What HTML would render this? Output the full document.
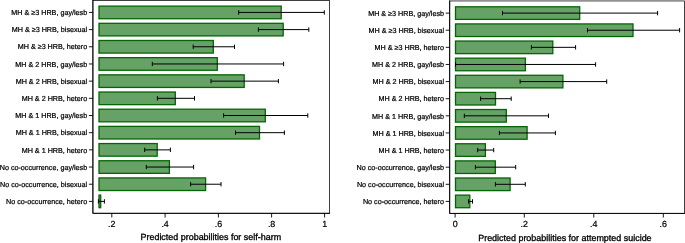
<!DOCTYPE html>
<html lang="en">
<head>
<meta charset="utf-8">
<title>Predicted probabilities</title>
<style>
html,body{margin:0;padding:0;background:#fff;}
body{width:685px;height:243px;overflow:hidden;}
svg{display:block;}
text.t{stroke-width:0.32px;}
svg{will-change:transform;opacity:0.9999;}
text{font-family:"Liberation Sans",Arial,Helvetica,sans-serif;fill:#000;stroke:#000;stroke-width:0.22px;text-rendering:geometricPrecision;}
</style>
</head>
<body>
<svg width="685" height="243" viewBox="0 0 685 243">
<rect width="685" height="243" fill="#fff"/>
<rect x="92.9" y="0.4" width="236.70" height="212.90" fill="#fff" stroke="#000" stroke-width="0.75"/>
<path d="M92.9 0.4V213.3H329.6" fill="none" stroke="#000" stroke-width="0.9" stroke-linecap="square"/>
<rect x="99.0" y="6.12" width="182.20" height="12.6" fill="#66a266" stroke="#056405" stroke-width="1.3"/>
<path d="M238.7 12.42H324.3" stroke="#000" stroke-width="1.0" fill="none"/>
<path d="M238.7 10.22v4.4M324.3 10.22v4.4" stroke="#000" stroke-width="1.0" fill="none"/>
<path d="M88.90 12.42H92.9" stroke="#000" stroke-width="0.9"/>
<text x="87.20" y="15.12" text-anchor="end" font-size="7.2">MH &amp; ≥3 HRB, gay/lesb</text>
<rect x="99.0" y="23.30" width="184.20" height="12.6" fill="#66a266" stroke="#056405" stroke-width="1.3"/>
<path d="M258.4 29.60H308.8" stroke="#000" stroke-width="1.0" fill="none"/>
<path d="M258.4 27.40v4.4M308.8 27.40v4.4" stroke="#000" stroke-width="1.0" fill="none"/>
<path d="M88.90 29.60H92.9" stroke="#000" stroke-width="0.9"/>
<text x="87.20" y="32.30" text-anchor="end" font-size="7.2">MH &amp; ≥3 HRB, bisexual</text>
<rect x="99.0" y="40.48" width="114.30" height="12.6" fill="#66a266" stroke="#056405" stroke-width="1.3"/>
<path d="M193.2 46.78H234.5" stroke="#000" stroke-width="1.0" fill="none"/>
<path d="M193.2 44.58v4.4M234.5 44.58v4.4" stroke="#000" stroke-width="1.0" fill="none"/>
<path d="M88.90 46.78H92.9" stroke="#000" stroke-width="0.9"/>
<text x="87.20" y="49.48" text-anchor="end" font-size="7.2">MH &amp; ≥3 HRB, hetero</text>
<rect x="99.0" y="57.66" width="118.30" height="12.6" fill="#66a266" stroke="#056405" stroke-width="1.3"/>
<path d="M152.3 63.96H283.6" stroke="#000" stroke-width="1.0" fill="none"/>
<path d="M152.3 61.76v4.4M283.6 61.76v4.4" stroke="#000" stroke-width="1.0" fill="none"/>
<path d="M88.90 63.96H92.9" stroke="#000" stroke-width="0.9"/>
<text x="87.20" y="66.66" text-anchor="end" font-size="7.2">MH &amp; 2 HRB, gay/lesb</text>
<rect x="99.0" y="74.84" width="145.20" height="12.6" fill="#66a266" stroke="#056405" stroke-width="1.3"/>
<path d="M211.0 81.14H278.4" stroke="#000" stroke-width="1.0" fill="none"/>
<path d="M211.0 78.94v4.4M278.4 78.94v4.4" stroke="#000" stroke-width="1.0" fill="none"/>
<path d="M88.90 81.14H92.9" stroke="#000" stroke-width="0.9"/>
<text x="87.20" y="83.84" text-anchor="end" font-size="7.2">MH &amp; 2 HRB, bisexual</text>
<rect x="99.0" y="92.02" width="76.30" height="12.6" fill="#66a266" stroke="#056405" stroke-width="1.3"/>
<path d="M157.4 98.32H194.5" stroke="#000" stroke-width="1.0" fill="none"/>
<path d="M157.4 96.12v4.4M194.5 96.12v4.4" stroke="#000" stroke-width="1.0" fill="none"/>
<path d="M88.90 98.32H92.9" stroke="#000" stroke-width="0.9"/>
<text x="87.20" y="101.02" text-anchor="end" font-size="7.2">MH &amp; 2 HRB, hetero</text>
<rect x="99.0" y="109.20" width="166.30" height="12.6" fill="#66a266" stroke="#056405" stroke-width="1.3"/>
<path d="M223.6 115.50H307.8" stroke="#000" stroke-width="1.0" fill="none"/>
<path d="M223.6 113.30v4.4M307.8 113.30v4.4" stroke="#000" stroke-width="1.0" fill="none"/>
<path d="M88.90 115.50H92.9" stroke="#000" stroke-width="0.9"/>
<text x="87.20" y="118.20" text-anchor="end" font-size="7.2">MH &amp; 1 HRB, gay/lesb</text>
<rect x="99.0" y="126.38" width="160.50" height="12.6" fill="#66a266" stroke="#056405" stroke-width="1.3"/>
<path d="M235.5 132.68H284.4" stroke="#000" stroke-width="1.0" fill="none"/>
<path d="M235.5 130.48v4.4M284.4 130.48v4.4" stroke="#000" stroke-width="1.0" fill="none"/>
<path d="M88.90 132.68H92.9" stroke="#000" stroke-width="0.9"/>
<text x="87.20" y="135.38" text-anchor="end" font-size="7.2">MH &amp; 1 HRB, bisexual</text>
<rect x="99.0" y="143.56" width="58.20" height="12.6" fill="#66a266" stroke="#056405" stroke-width="1.3"/>
<path d="M144.7 149.86H170.4" stroke="#000" stroke-width="1.0" fill="none"/>
<path d="M144.7 147.66v4.4M170.4 147.66v4.4" stroke="#000" stroke-width="1.0" fill="none"/>
<path d="M88.90 149.86H92.9" stroke="#000" stroke-width="0.9"/>
<text x="87.20" y="152.56" text-anchor="end" font-size="7.2">MH &amp; 1 HRB, hetero</text>
<rect x="99.0" y="160.74" width="70.40" height="12.6" fill="#66a266" stroke="#056405" stroke-width="1.3"/>
<path d="M146.3 167.04H193.6" stroke="#000" stroke-width="1.0" fill="none"/>
<path d="M146.3 164.84v4.4M193.6 164.84v4.4" stroke="#000" stroke-width="1.0" fill="none"/>
<path d="M88.90 167.04H92.9" stroke="#000" stroke-width="0.9"/>
<text x="87.20" y="169.74" text-anchor="end" font-size="7.2">No co-occurrence, gay/lesb</text>
<rect x="99.0" y="177.92" width="106.60" height="12.6" fill="#66a266" stroke="#056405" stroke-width="1.3"/>
<path d="M190.6 184.22H221.0" stroke="#000" stroke-width="1.0" fill="none"/>
<path d="M190.6 182.02v4.4M221.0 182.02v4.4" stroke="#000" stroke-width="1.0" fill="none"/>
<path d="M88.90 184.22H92.9" stroke="#000" stroke-width="0.9"/>
<text x="87.20" y="186.92" text-anchor="end" font-size="7.2">No co-occurrence, bisexual</text>
<rect x="99.0" y="195.10" width="1.70" height="12.6" fill="#66a266" stroke="#056405" stroke-width="1.3"/>
<path d="M98.4 201.40H104.4" stroke="#000" stroke-width="1.0" fill="none"/>
<path d="M98.4 199.20v4.4M104.4 199.20v4.4" stroke="#000" stroke-width="1.0" fill="none"/>
<path d="M88.90 201.40H92.9" stroke="#000" stroke-width="0.9"/>
<text x="87.20" y="204.10" text-anchor="end" font-size="7.2">No co-occurrence, hetero</text>
<path d="M111.8 213.3V217.50" stroke="#000" stroke-width="0.9"/>
<text x="111.8" y="227.1" text-anchor="middle" font-size="8.9">.2</text>
<path d="M165.1 213.3V217.50" stroke="#000" stroke-width="0.9"/>
<text x="165.1" y="227.1" text-anchor="middle" font-size="8.9">.4</text>
<path d="M218.4 213.3V217.50" stroke="#000" stroke-width="0.9"/>
<text x="218.4" y="227.1" text-anchor="middle" font-size="8.9">.6</text>
<path d="M271.6 213.3V217.50" stroke="#000" stroke-width="0.9"/>
<text x="271.6" y="227.1" text-anchor="middle" font-size="8.9">.8</text>
<path d="M324.6 213.3V217.50" stroke="#000" stroke-width="0.9"/>
<text x="324.6" y="227.1" text-anchor="middle" font-size="8.9">1</text>
<text class="t" x="140.5" y="239.9" font-size="8.95">Predicted probabilities for self-harm</text>
<rect x="449.7" y="0.95" width="234.80" height="212.45" fill="#fff" stroke="#000" stroke-width="0.75"/>
<path d="M449.7 0.95V213.4H684.5" fill="none" stroke="#000" stroke-width="0.9" stroke-linecap="square"/>
<rect x="455.5" y="6.80" width="124.20" height="12.6" fill="#66a266" stroke="#056405" stroke-width="1.3"/>
<path d="M502.5 13.10H657.6" stroke="#000" stroke-width="1.0" fill="none"/>
<path d="M502.5 10.90v4.4M657.6 10.90v4.4" stroke="#000" stroke-width="1.0" fill="none"/>
<path d="M445.70 13.10H449.7" stroke="#000" stroke-width="0.9"/>
<text x="444.00" y="15.80" text-anchor="end" font-size="7.2">MH &amp; ≥3 HRB, gay/lesb</text>
<rect x="455.5" y="23.92" width="177.50" height="12.6" fill="#66a266" stroke="#056405" stroke-width="1.3"/>
<path d="M587.5 30.22H679.6" stroke="#000" stroke-width="1.0" fill="none"/>
<path d="M587.5 28.02v4.4M679.6 28.02v4.4" stroke="#000" stroke-width="1.0" fill="none"/>
<path d="M445.70 30.22H449.7" stroke="#000" stroke-width="0.9"/>
<text x="444.00" y="32.92" text-anchor="end" font-size="7.2">MH &amp; ≥3 HRB, bisexual</text>
<rect x="455.5" y="41.04" width="97.30" height="12.6" fill="#66a266" stroke="#056405" stroke-width="1.3"/>
<path d="M531.4 47.34H575.6" stroke="#000" stroke-width="1.0" fill="none"/>
<path d="M531.4 45.14v4.4M575.6 45.14v4.4" stroke="#000" stroke-width="1.0" fill="none"/>
<path d="M445.70 47.34H449.7" stroke="#000" stroke-width="0.9"/>
<text x="444.00" y="50.04" text-anchor="end" font-size="7.2">MH &amp; ≥3 HRB, hetero</text>
<rect x="455.5" y="58.16" width="69.90" height="12.6" fill="#66a266" stroke="#056405" stroke-width="1.3"/>
<path d="M455.5 64.46H595.6" stroke="#000" stroke-width="1.0" fill="none"/>
<path d="M455.5 62.26v4.4M595.6 62.26v4.4" stroke="#000" stroke-width="1.0" fill="none"/>
<path d="M445.70 64.46H449.7" stroke="#000" stroke-width="0.9"/>
<text x="444.00" y="67.16" text-anchor="end" font-size="7.2">MH &amp; 2 HRB, gay/lesb</text>
<rect x="455.5" y="75.28" width="107.40" height="12.6" fill="#66a266" stroke="#056405" stroke-width="1.3"/>
<path d="M520.1 81.58H606.7" stroke="#000" stroke-width="1.0" fill="none"/>
<path d="M520.1 79.38v4.4M606.7 79.38v4.4" stroke="#000" stroke-width="1.0" fill="none"/>
<path d="M445.70 81.58H449.7" stroke="#000" stroke-width="0.9"/>
<text x="444.00" y="84.28" text-anchor="end" font-size="7.2">MH &amp; 2 HRB, bisexual</text>
<rect x="455.5" y="92.40" width="40.00" height="12.6" fill="#66a266" stroke="#056405" stroke-width="1.3"/>
<path d="M480.6 98.70H511.2" stroke="#000" stroke-width="1.0" fill="none"/>
<path d="M480.6 96.50v4.4M511.2 96.50v4.4" stroke="#000" stroke-width="1.0" fill="none"/>
<path d="M445.70 98.70H449.7" stroke="#000" stroke-width="0.9"/>
<text x="444.00" y="101.40" text-anchor="end" font-size="7.2">MH &amp; 2 HRB, hetero</text>
<rect x="455.5" y="109.52" width="50.80" height="12.6" fill="#66a266" stroke="#056405" stroke-width="1.3"/>
<path d="M464.3 115.82H548.5" stroke="#000" stroke-width="1.0" fill="none"/>
<path d="M464.3 113.62v4.4M548.5 113.62v4.4" stroke="#000" stroke-width="1.0" fill="none"/>
<path d="M445.70 115.82H449.7" stroke="#000" stroke-width="0.9"/>
<text x="444.00" y="118.52" text-anchor="end" font-size="7.2">MH &amp; 1 HRB, gay/lesb</text>
<rect x="455.5" y="126.64" width="71.60" height="12.6" fill="#66a266" stroke="#056405" stroke-width="1.3"/>
<path d="M499.4 132.94H555.4" stroke="#000" stroke-width="1.0" fill="none"/>
<path d="M499.4 130.74v4.4M555.4 130.74v4.4" stroke="#000" stroke-width="1.0" fill="none"/>
<path d="M445.70 132.94H449.7" stroke="#000" stroke-width="0.9"/>
<text x="444.00" y="135.64" text-anchor="end" font-size="7.2">MH &amp; 1 HRB, bisexual</text>
<rect x="455.5" y="143.76" width="29.90" height="12.6" fill="#66a266" stroke="#056405" stroke-width="1.3"/>
<path d="M477.7 150.06H493.7" stroke="#000" stroke-width="1.0" fill="none"/>
<path d="M477.7 147.86v4.4M493.7 147.86v4.4" stroke="#000" stroke-width="1.0" fill="none"/>
<path d="M445.70 150.06H449.7" stroke="#000" stroke-width="0.9"/>
<text x="444.00" y="152.76" text-anchor="end" font-size="7.2">MH &amp; 1 HRB, hetero</text>
<rect x="455.5" y="160.88" width="39.80" height="12.6" fill="#66a266" stroke="#056405" stroke-width="1.3"/>
<path d="M475.4 167.18H515.7" stroke="#000" stroke-width="1.0" fill="none"/>
<path d="M475.4 164.98v4.4M515.7 164.98v4.4" stroke="#000" stroke-width="1.0" fill="none"/>
<path d="M445.70 167.18H449.7" stroke="#000" stroke-width="0.9"/>
<text x="444.00" y="169.88" text-anchor="end" font-size="7.2">No co-occurrence, gay/lesb</text>
<rect x="455.5" y="178.00" width="54.60" height="12.6" fill="#66a266" stroke="#056405" stroke-width="1.3"/>
<path d="M495.4 184.30H525.3" stroke="#000" stroke-width="1.0" fill="none"/>
<path d="M495.4 182.10v4.4M525.3 182.10v4.4" stroke="#000" stroke-width="1.0" fill="none"/>
<path d="M445.70 184.30H449.7" stroke="#000" stroke-width="0.9"/>
<text x="444.00" y="187.00" text-anchor="end" font-size="7.2">No co-occurrence, bisexual</text>
<rect x="455.5" y="195.12" width="14.30" height="12.6" fill="#66a266" stroke="#056405" stroke-width="1.3"/>
<path d="M468.5 201.42H472.5" stroke="#000" stroke-width="1.0" fill="none"/>
<path d="M468.5 199.22v4.4M472.5 199.22v4.4" stroke="#000" stroke-width="1.0" fill="none"/>
<path d="M445.70 201.42H449.7" stroke="#000" stroke-width="0.9"/>
<text x="444.00" y="204.12" text-anchor="end" font-size="7.2">No co-occurrence, hetero</text>
<path d="M455.1 213.4V217.60" stroke="#000" stroke-width="0.9"/>
<text x="455.1" y="227.3" text-anchor="middle" font-size="8.9">0</text>
<path d="M524.3 213.4V217.60" stroke="#000" stroke-width="0.9"/>
<text x="524.3" y="227.3" text-anchor="middle" font-size="8.9">.2</text>
<path d="M593.8 213.4V217.60" stroke="#000" stroke-width="0.9"/>
<text x="593.8" y="227.3" text-anchor="middle" font-size="8.9">.4</text>
<path d="M663.3 213.4V217.60" stroke="#000" stroke-width="0.9"/>
<text x="663.3" y="227.3" text-anchor="middle" font-size="8.9">.6</text>
<text class="t" x="478.2" y="241.2" font-size="8.95">Predicted probabilities for attempted suicide</text>
</svg>
</body>
</html>
